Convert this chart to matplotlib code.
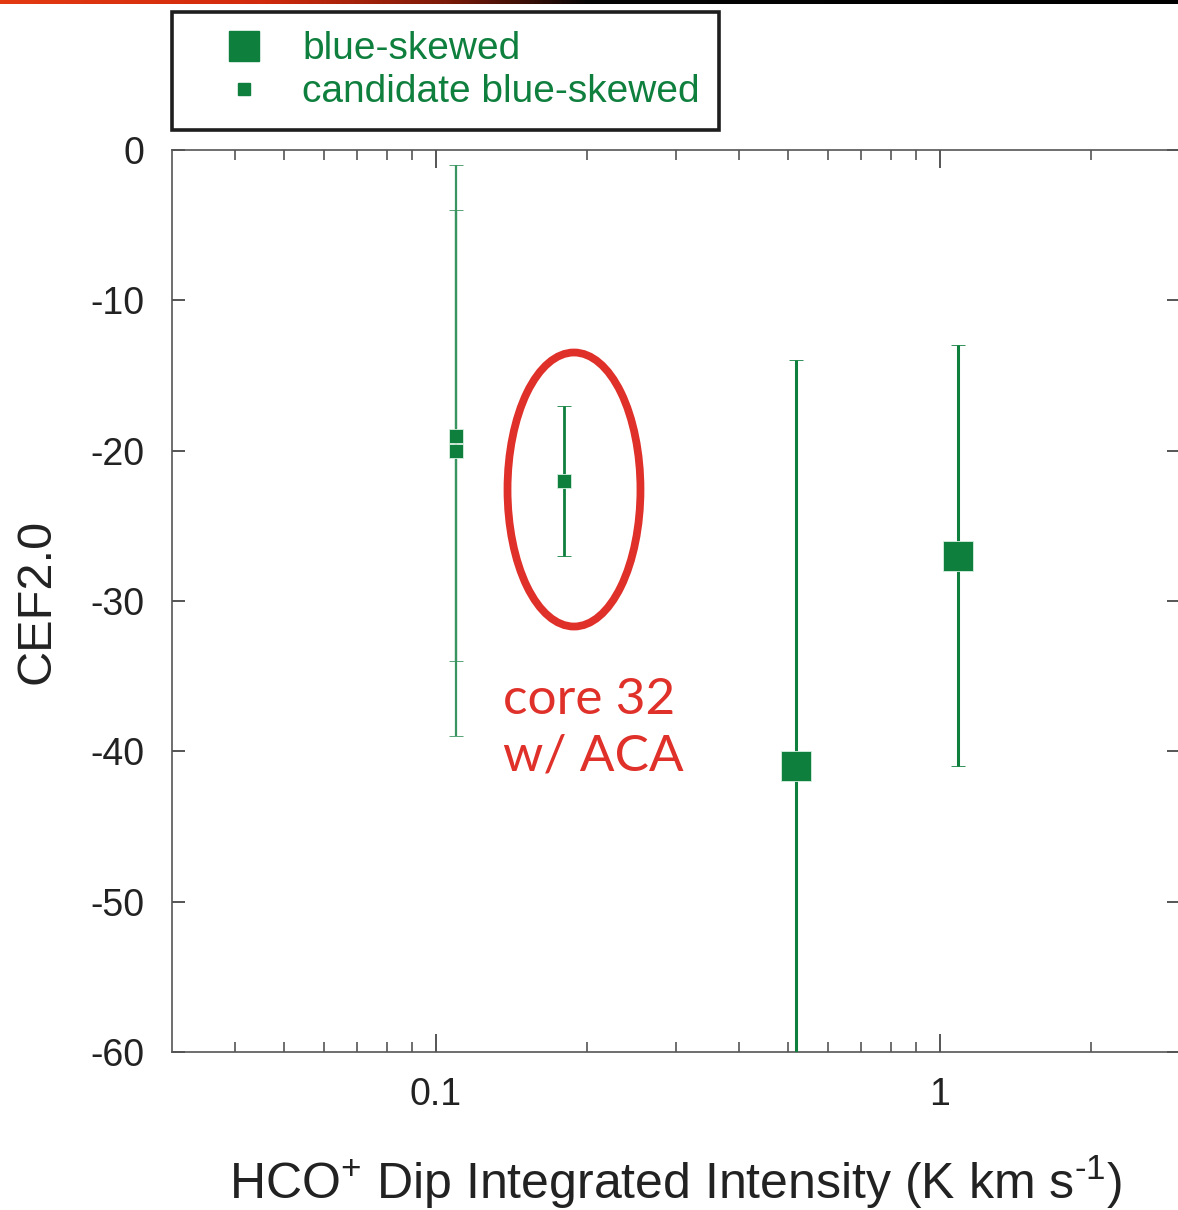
import numpy as np
import matplotlib
matplotlib.use("Agg")
import matplotlib.pyplot as plt
from matplotlib.lines import Line2D
from matplotlib.patches import Ellipse
from matplotlib.colors import LinearSegmentedColormap
from matplotlib.ticker import FixedLocator, NullFormatter, FixedFormatter

plt.rcParams['font.family'] = ['Liberation Sans', 'DejaVu Sans']
plt.rcParams['mathtext.fontset'] = 'custom'
plt.rcParams['mathtext.rm'] = 'Liberation Sans'
plt.rcParams['mathtext.it'] = 'Liberation Sans'
plt.rcParams['mathtext.default'] = 'regular'

# ---------------- data ----------------
# blue-skewed sources
blue_x = [0.52, 1.09]
blue_y = [-41, -27]
blue_err = [27, 14]

# candidate blue-skewed sources
cand_x = [0.11, 0.11]
cand_y = [-19, -20]
cand_err = [15, 19]

# core 32 with ACA (candidate)
core32_x = [0.18]
core32_y = [-22]
core32_err = [5]

legend_labels = ["blue-skewed", "candidate blue-skewed"]
annot_text = "core 32\nw/ ACA"
xlabel = "HCO$^{+}$ Dip Integrated Intensity (K km s$^{\u20101}$)"
ylabel = "CEF2.0"
x_major = [0.1, 1]
x_major_labels = ["0.1", "1"]
x_minor = [0.04, 0.05, 0.06, 0.07, 0.08, 0.09, 0.2, 0.3, 0.4, 0.5, 0.6, 0.7, 0.8, 0.9, 2]
y_ticks = [0, -10, -20, -30, -40, -50, -60]

GREEN = '#0f7f3e'
RED = '#e0302a'
TEXT = '#222222'
SPINE = '#555555'

W, H = 1178, 1210
fig = plt.figure(figsize=(W / 100, H / 100), dpi=100)

# top decorative gradient bar
bar_ax = fig.add_axes([0, 1 - 4 / H, 1, 4 / H])
grad = np.linspace(0, 1, 512).reshape(1, -1)
cmap = LinearSegmentedColormap.from_list(
    'hdr', [(0, '#e33a12'), (0.22, '#d22a0c'), (0.38, '#7a1a08'), (0.5, '#050505'), (1, '#000000')])
bar_ax.imshow(grad, aspect='auto', cmap=cmap)
bar_ax.axis('off')

left, right, top, bottom = 172, 1180, 150, 1052
ax = fig.add_axes([left / W, 1 - bottom / H, (right - left) / W, (bottom - top) / H])

ax.set_xscale('log')
ax.set_xlim(0.03, 3)
ax.set_ylim(-60, 0)

# error bars + markers
ax.errorbar(cand_x[0:1], cand_y[0:1], yerr=cand_err[0:1], fmt='s', color=GREEN, ms=10,
            mec='#d8efe0', mew=0.6, elinewidth=1.6, capsize=5, capthick=1.8, ecolor='#3a9460',
            zorder=3)
ax.errorbar(cand_x[1:2], cand_y[1:2], yerr=cand_err[1:2], fmt='s', color=GREEN, ms=10,
            mec='#d8efe0', mew=0.6, elinewidth=1.6, capsize=5, capthick=1.8, ecolor='#3a9460',
            zorder=3)
ax.errorbar(core32_x, core32_y, yerr=core32_err, fmt='s', color=GREEN, ms=10,
            mec='#d8efe0', mew=0.6, elinewidth=2, capsize=5, capthick=2, ecolor=GREEN, zorder=3)
ax.errorbar(blue_x, blue_y, yerr=blue_err, fmt='s', color=GREEN, ms=21.5,
            mec='#d8efe0', mew=0.6, elinewidth=2.2, capsize=5, capthick=2, ecolor=GREEN, zorder=3)

# annotation: ellipse and text
ell = Ellipse((0.3988, 0.6236), 0.1319, 0.3038, transform=ax.transAxes,
              fill=False, edgecolor=RED, linewidth=5.6, zorder=4)
ax.add_patch(ell)
ax.text(0.328, 0.416, annot_text, transform=ax.transAxes, color=RED,
        fontsize=37, family=['Lato', 'DejaVu Sans'], ha='left', va='top', linespacing=1.28)

# ticks
ax.xaxis.set_major_locator(FixedLocator(x_major))
ax.xaxis.set_major_formatter(FixedFormatter(x_major_labels))
ax.xaxis.set_minor_locator(FixedLocator(x_minor))
ax.xaxis.set_minor_formatter(NullFormatter())
ax.set_yticks(y_ticks)
ax.set_yticklabels([str(v) for v in y_ticks])

ax.tick_params(axis='x', which='major', direction='in', length=13, width=1.4, top=True,
               bottom=True, colors=SPINE, labelcolor=TEXT, labelsize=27, pad=18)
ax.tick_params(axis='x', which='minor', direction='in', length=7, width=1.2, top=True,
               bottom=True, colors=SPINE)
ax.tick_params(axis='y', which='major', direction='in', length=9.5, width=1.4, left=True,
               right=True, colors=SPINE, labelcolor=TEXT, labelsize=27, pad=20)
ax.tick_params(axis='y', which='minor', left=False, right=False)

for s in ax.spines.values():
    s.set_color(SPINE)
    s.set_linewidth(1.2)

ax.set_xlabel(xlabel, fontsize=36, color=TEXT, labelpad=29)
ax.set_ylabel(ylabel, fontsize=35, color=TEXT, labelpad=22)

# legend
handles = [Line2D([], [], ls='none', marker='s', ms=21, color=GREEN, mec=GREEN),
           Line2D([], [], ls='none', marker='s', ms=9, color=GREEN, mec=GREEN)]
leg = fig.legend(handles, legend_labels, loc='upper left',
                 bbox_to_anchor=(left / W, 1 - 12 / H), bbox_transform=fig.transFigure,
                 borderaxespad=0, fontsize=28, frameon=True, fancybox=False,
                 labelcolor=GREEN, borderpad=0.5, labelspacing=0.18,
                 handlelength=2.7, handletextpad=0.15)
fr = leg.get_frame()
fr.set_edgecolor('#1e1e1e')
fr.set_linewidth(2.6)
fr.set_facecolor('white')
fr.set_alpha(1)

fig.savefig('out.png', dpi=100)
